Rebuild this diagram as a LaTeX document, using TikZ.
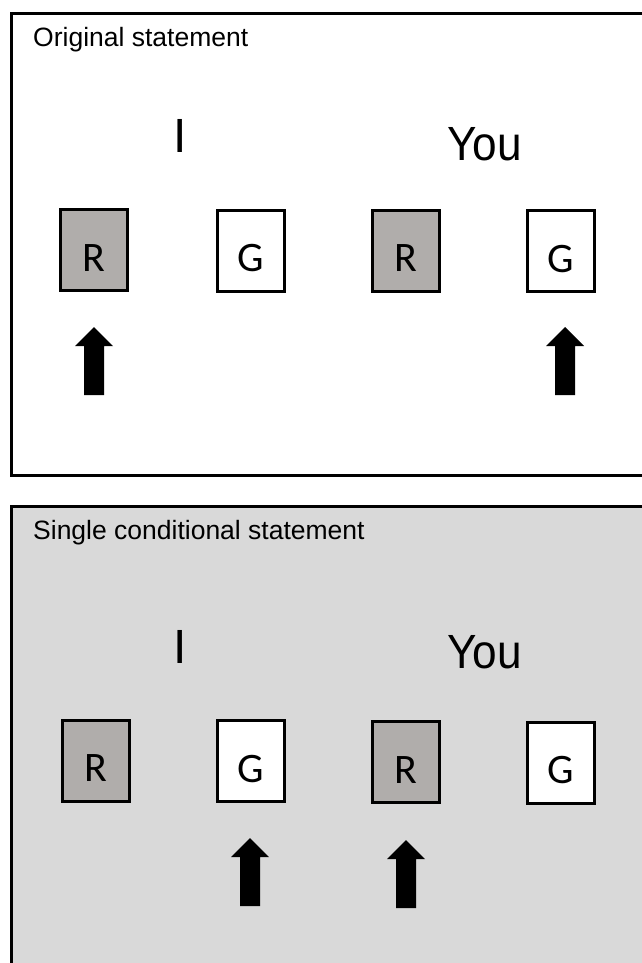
\documentclass[tikz,border=0pt]{standalone}
\usepackage{fontspec}
\setmainfont{Liberation Sans}
\newfontfamily\boxfont{Carlito}
\usetikzlibrary{calc}
\definecolor{panelgray}{HTML}{D9D9D9}
\definecolor{boxgray}{HTML}{B0ADAB}
\tikzset{
  panel/.style={draw=black, line width=3pt},
  title/.style={anchor=base west, inner sep=0pt, font=\fontsize{26.5}{30}\selectfont},
  pronI/.style={anchor=base, inner sep=0pt, font=\fontsize{48}{55}\selectfont},
  pronYou/.style={anchor=base west, inner sep=0pt, font=\fontsize{48}{55}\selectfont},
  cardbox/.style={draw=black, line width=3pt, rectangle, inner sep=0pt,
    minimum width=67pt, minimum height=81pt, text height=42pt, text depth=0pt,
    font=\boxfont\fontsize{42}{46}\selectfont},
  redcard/.style={cardbox, fill=boxgray},
  greencard/.style={cardbox, fill=white},
  pics/uparrow/.style={code={
    \fill[black] (-10,0) -- (10,0) -- (10,-49) -- (19,-49) -- (0,-68) -- (-19,-49) -- (-10,-49) -- cycle;
  }}
}
\begin{document}
\begin{tikzpicture}[x=1pt,y=-1pt]
\useasboundingbox (0,0) rectangle (642,963);
\fill[white] (0,0) rectangle (642,963);
\clip (0,0) rectangle (642,963);
% top panel
\draw[panel, fill=white] (11.5,13.5) rectangle (660,475.5);
\node[title] (t1) at (33,47) {Original statement};
\node[pronI] (i1) at (180,153) {I};
\node[pronYou] (y1) at (447,160) {\scalebox{0.92}[1]{You}};
\node[redcard] (r1) at (94,250) {R};
\node[greencard] (g1) at (251,250.5) {G};
\node[redcard] (r2) at (406,250.5) {R};
\node[greencard] (g2) at (561,251) {G};
\pic at (94,395) {uparrow};
\pic at (565,395) {uparrow};
% bottom panel
\draw[panel, fill=panelgray] (11.5,506) rectangle (660,990);
\node[title] (t2) at (33,539.5) {Single conditional statement};
\node[pronI] (i2) at (180,663) {I};
\node[pronYou] (y2) at (447,668) {\scalebox{0.92}[1]{You}};
\node[redcard] (r3) at (96,760.5) {R};
\node[greencard] (g3) at (251,761) {G};
\node[redcard] (r4) at (406,762) {R};
\node[greencard] (g4) at (561,762.5) {G};
\pic at (250,906) {uparrow};
\pic at (406,908) {uparrow};
\end{tikzpicture}
\end{document}
